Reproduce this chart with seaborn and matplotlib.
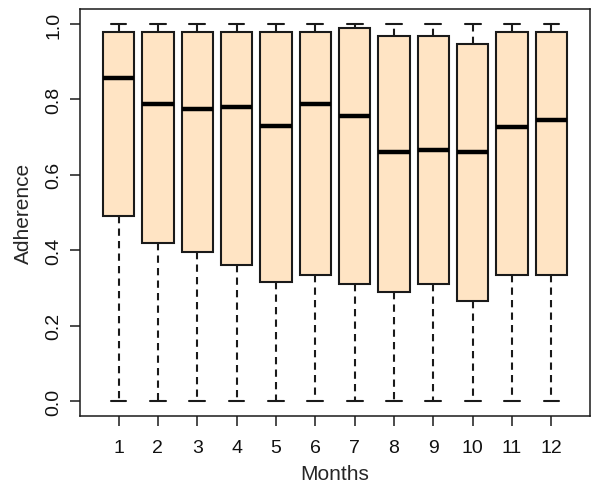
import numpy as np
import pandas as pd
import matplotlib
matplotlib.use("Agg")
import matplotlib.pyplot as plt
import seaborn as sns

# Box statistics (per month)
months = [1, 2, 3, 4, 5, 6, 7, 8, 9, 10, 11, 12]
whisker_low = [0.0] * 12
q1 = [0.492, 0.420, 0.395, 0.360, 0.315, 0.333, 0.310, 0.288, 0.310, 0.265, 0.333, 0.333]
medians = [0.857, 0.787, 0.775, 0.780, 0.730, 0.787, 0.755, 0.660, 0.665, 0.660, 0.728, 0.745]
q3 = [0.980, 0.980, 0.980, 0.980, 0.980, 0.980, 0.990, 0.967, 0.967, 0.948, 0.980, 0.980]
whisker_high = [1.0] * 12

# five points per month reproduce min / q1 / median / q3 / max exactly
rows = []
for m, lo, a, b, c, hi in zip(months, whisker_low, q1, medians, q3, whisker_high):
    for v in (lo, a, b, c, hi):
        rows.append({"month": m, "adherence": v})
df = pd.DataFrame(rows)

sns.set_style("white")
plt.rcParams["font.family"] = ["Liberation Sans", "DejaVu Sans"]

fig = plt.figure(figsize=(6, 4.89), dpi=100)
ax = fig.add_axes([0.1333, 0.1472, 0.85, 0.8324])

sns.boxplot(data=df, x="month", y="adherence", native_scale=True,
            color="#FFE4C4", saturation=1, width=0.8, whis=(0, 100),
            linecolor="#1a1a1a", linewidth=1.5, ax=ax,
            whiskerprops={"linestyle": (0, (3.5, 2.5))},
            medianprops={"color": "black", "linewidth": 3.2})

ax.set_xlim(0.02, 12.98)
ax.set_ylim(-0.04, 1.04)
ax.set_xticks(months)
ax.set_xticklabels([str(m) for m in months])
ax.set_yticks([0.0, 0.2, 0.4, 0.6, 0.8, 1.0])
ax.set_yticklabels(["0.0", "0.2", "0.4", "0.6", "0.8", "1.0"], rotation=90, va="center")
ax.tick_params(axis="both", direction="out", length=7.5, width=1.1, colors="#1a1a1a",
               labelsize=14, labelcolor="#111111", left=True, bottom=True)
ax.tick_params(axis="x", pad=9)
ax.tick_params(axis="y", pad=5)
for s in ax.spines.values():
    s.set_visible(True)
    s.set_color("#1a1a1a")
    s.set_linewidth(1.1)
ax.set_xlabel("Months", fontsize=15, labelpad=6)
ax.set_ylabel("Adherence", fontsize=15, labelpad=9)

fig.savefig("out.png", dpi=100)
